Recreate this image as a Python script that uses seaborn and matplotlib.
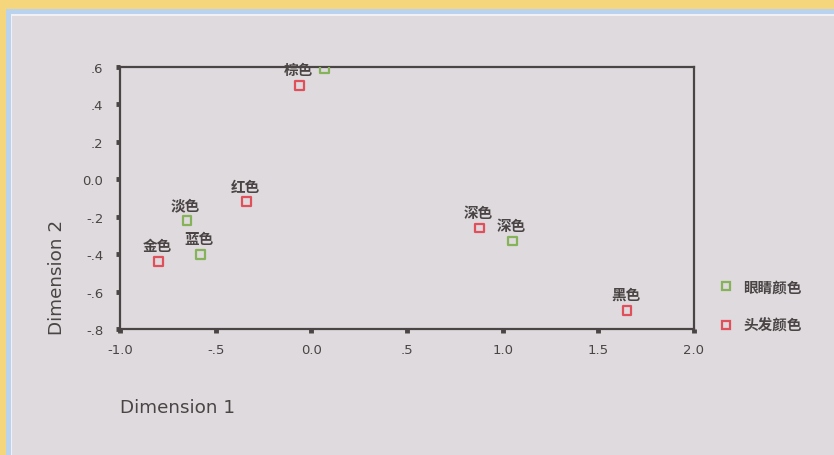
import numpy as np
import pandas as pd
import matplotlib
matplotlib.use("Agg")
import matplotlib.pyplot as plt
from matplotlib.patches import Rectangle
from matplotlib.lines import Line2D
import seaborn as sns

# correspondence analysis: hair colour vs eye colour
eye_labels = ['淡色', '蓝色', '棕色', '深色']
eye_x = [-0.65, -0.58, 0.07, 1.05]
eye_y = [-0.22, -0.40, 0.59, -0.33]

hair_labels = ['金色', '红色', '棕色', '深色', '黑色']
hair_x = [-0.80, -0.34, -0.06, 0.88, 1.65]
hair_y = [-0.44, -0.12, 0.50, -0.26, -0.70]

groups = ['眼睛颜色', '头发颜色']
x_ticks = [-1.0, -0.5, 0.0, 0.5, 1.0, 1.5, 2.0]
x_ticklabels = ['-1.0', '-.5', '0.0', '.5', '1.0', '1.5', '2.0']
y_ticks = [-0.8, -0.6, -0.4, -0.2, 0.0, 0.2, 0.4, 0.6]
y_ticklabels = ['-.8', '-.6', '-.4', '-.2', '0.0', '.2', '.4', '.6']

df = pd.DataFrame({
    'x': eye_x + hair_x,
    'y': eye_y + hair_y,
    'label': eye_labels + hair_labels,
    'group': [groups[0]] * len(eye_x) + [groups[1]] * len(hair_x),
})

sns.set_style('white')
plt.rcParams['font.family'] = ['DejaVu Sans', 'Noto Sans CJK SC']

bg = '#dedadd'
ink = '#4a4444'
palette = {groups[0]: '#86b35a', groups[1]: '#e0505a'}

fig = plt.figure(figsize=(8.34, 4.56), dpi=100)
fig.patch.set_facecolor(bg)
# scanned page frame: yellow border, blue strip, white line
fig.patches.append(Rectangle((0, 0), 1, 1, transform=fig.transFigure,
                             facecolor='#f6d67c', edgecolor='none', zorder=-3))
fig.patches.append(Rectangle((6 / 834, 0), 1, 1 - 10 / 456, transform=fig.transFigure,
                             facecolor='#b9d3ee', edgecolor='none', zorder=-2))
fig.patches.append(Rectangle((11 / 834, 0), 1, 1 - 15 / 456, transform=fig.transFigure,
                             facecolor='#f2f0f2', edgecolor='none', zorder=-2))
fig.patches.append(Rectangle((12 / 834, 0), 1, 1 - 17 / 456, transform=fig.transFigure,
                             facecolor=bg, edgecolor='none', zorder=-1))

ax = fig.add_axes([120 / 834, 1 - 330 / 456, 574 / 834, 262 / 456])
ax.set_facecolor(bg)

sns.scatterplot(data=df, x='x', y='y', hue='group', palette=palette,
                marker='s', s=40, linewidth=1.6, legend=False, ax=ax, zorder=3)
for coll in ax.collections:
    fc = coll.get_facecolors()
    coll.set_edgecolors(fc)
    coll.set_facecolors('none')

# point labels (the eye "棕色" label is hidden by the overlapping hair label)
hidden = {(groups[0], '棕色')}
for _, r in df.iterrows():
    if (r['group'], r['label']) in hidden:
        continue
    ax.annotate(r['label'], (r['x'], r['y']), xytext=(-1, 6), textcoords='offset points',
                ha='center', va='bottom', fontsize=10.5, fontweight='bold', color=ink,
                family=['Noto Sans CJK SC', 'DejaVu Sans'], zorder=4)

ax.set_xlim(-1.0, 2.0)
ax.set_ylim(-0.8, 0.6)
ax.set_xticks(x_ticks)
ax.set_xticklabels(x_ticklabels)
ax.set_yticks(y_ticks)
ax.set_yticklabels(y_ticklabels)
ax.tick_params(axis='both', bottom=True, left=True, direction='out', length=3,
               width=3.5, color=ink, labelcolor=ink, labelsize=9.5)
ax.tick_params(axis='x', pad=7)
ax.tick_params(axis='y', pad=9)
for sp in ax.spines.values():
    sp.set_visible(True)
    sp.set_color(ink)
    sp.set_linewidth(1.6)

ax.set_xlabel('')
ax.set_ylabel('')
fig.text(120 / 834, 1 - 408 / 456, 'Dimension 1', ha='left', va='center',
         fontsize=13.2, color=ink)
fig.text(57 / 834, 1 - 335 / 456, 'Dimension 2', ha='center', va='bottom',
         rotation=90, fontsize=13.2, color=ink)

handles = [Line2D([], [], marker='s', linestyle='none', markersize=5.5,
                  markerfacecolor='none', markeredgecolor=palette[g],
                  markeredgewidth=1.6, label=g) for g in groups]
leg = fig.legend(handles=handles, loc='upper left', bbox_to_anchor=(704 / 834, 1 - 266 / 456),
                 frameon=False, labelspacing=1.55, handletextpad=0.6, handlelength=1.2,
                 prop={'family': ['Noto Sans CJK SC', 'DejaVu Sans'], 'size': 10.5,
                       'weight': 'bold'})
for t in leg.get_texts():
    t.set_color(ink)

fig.savefig('out.png', dpi=100, facecolor=fig.get_facecolor())
